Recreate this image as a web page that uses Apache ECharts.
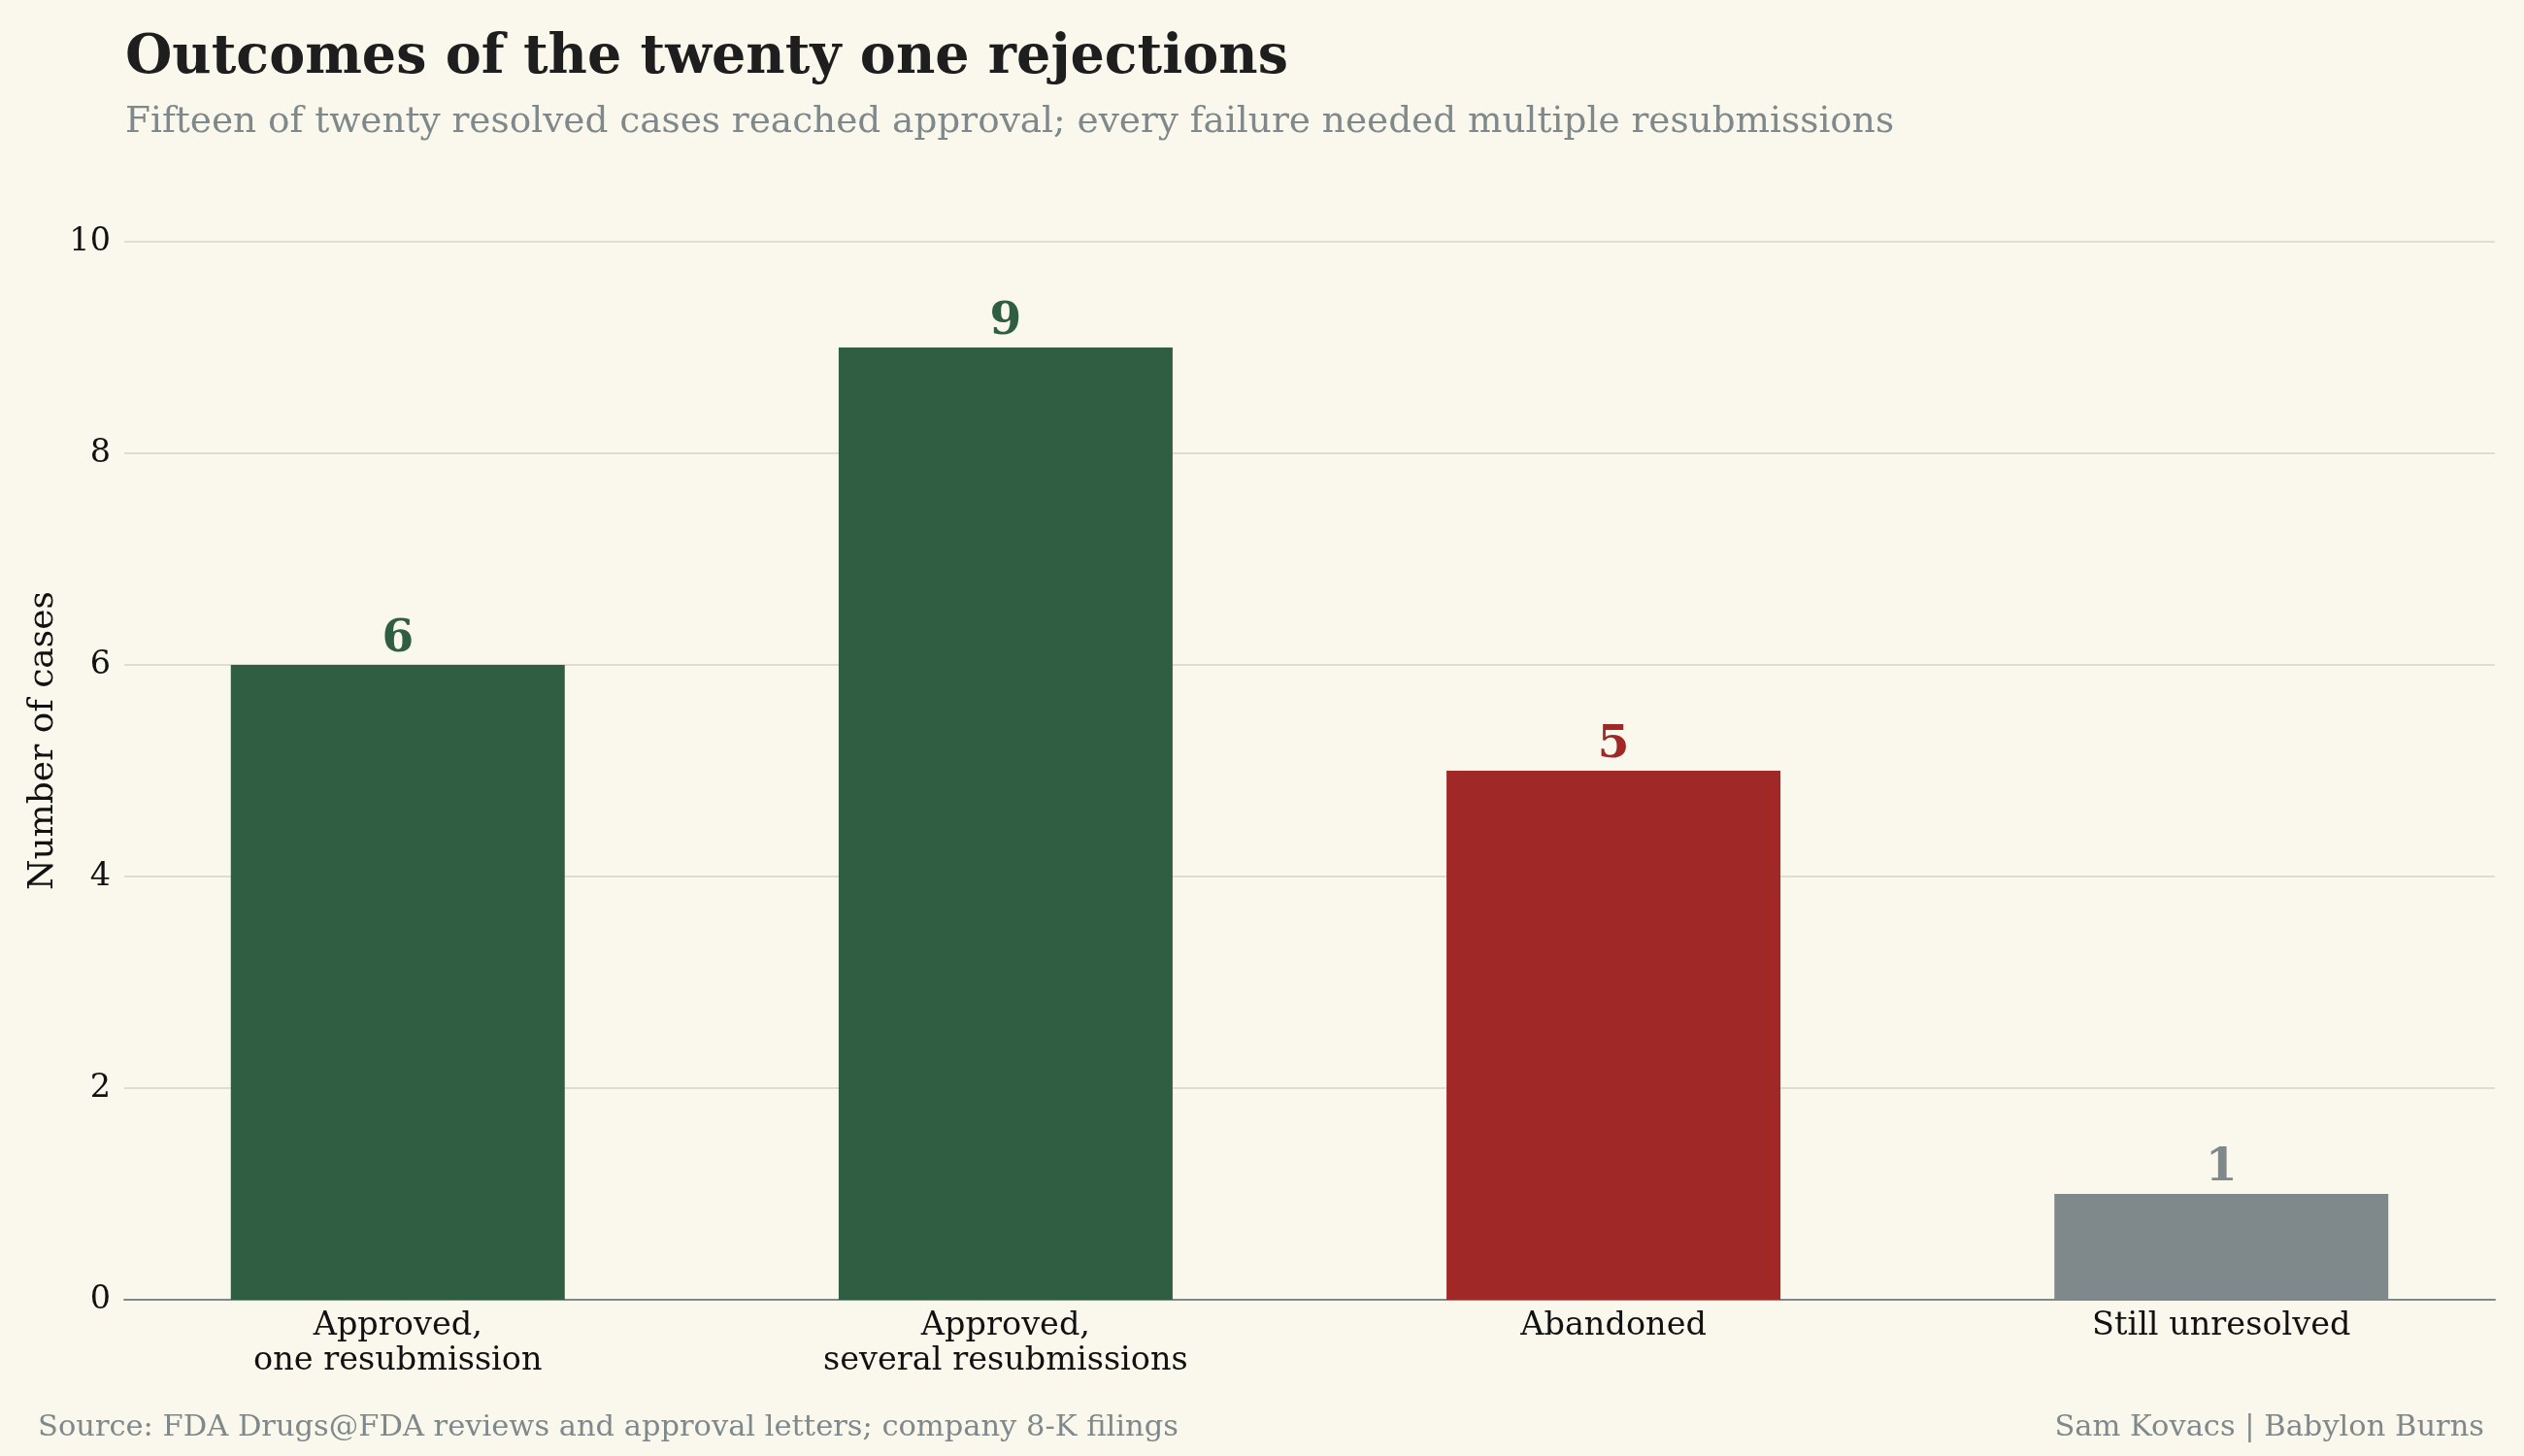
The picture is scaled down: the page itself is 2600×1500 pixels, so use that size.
<!DOCTYPE html>
<html>
<head>
<meta charset="utf-8">
<script src="https://cdn.jsdelivr.net/npm/echarts@6/dist/echarts.min.js"></script>
<style>
html,body{margin:0;padding:0;background:#FAF8EC;}
#chart{width:2600px;height:1500px;}
</style>
</head>
<body>
<div id="chart"></div>
<script>
const categories = ['Approved,\none resubmission', 'Approved,\nseveral resubmissions', 'Abandoned', 'Still unresolved'];
const caseCounts = [6, 9, 5, 1];
const barColors = ['#2F5E42', '#2F5E42', '#A02826', '#7F898B'];
const yTicks = [0, 2, 4, 6, 8, 10];

const FONT = 'DejaVu Serif';
const chart = echarts.init(document.getElementById('chart'), null, {renderer: 'canvas'});

const option = {
  backgroundColor: '#FAF8EC',
  animation: false,
  title: [
    {
      text: 'Outcomes of the twenty one rejections',
      left: 124, top: 28,
      textStyle: {fontFamily: FONT, fontWeight: 'bold', fontSize: 55.5, color: '#1E1E1E'}
    },
    {
      text: 'Fifteen of twenty resolved cases reached approval; every failure needed multiple resubmissions',
      left: 124, top: 103,
      textStyle: {fontFamily: FONT, fontWeight: 'normal', fontSize: 37.4, color: '#7F898B'}
    },
    {
      text: 'Source: FDA Drugs@FDA reviews and approval letters; company 8-K filings',
      left: 34, top: 1451,
      textStyle: {fontFamily: FONT, fontWeight: 'normal', fontSize: 30.5, color: '#7F898B'}
    },
    {
      text: 'Sam Kovacs | Babylon Burns',
      right: 36, top: 1451,
      textStyle: {fontFamily: FONT, fontWeight: 'normal', fontSize: 30.5, color: '#7F898B'}
    }
  ],
  graphic: [{
    type: 'text',
    x: 45, y: 763,
    rotation: Math.PI / 2,
    style: {
      text: 'Number of cases',
      fontFamily: FONT, fontSize: 36, fill: '#111',
      align: 'center', verticalAlign: 'middle'
    }
  }],
  grid: {left: 128, right: 30, top: 249, bottom: 161, containLabel: false},
  xAxis: {
    type: 'value',
    min: -0.45,
    max: 3.45,
    axisLine: {show: true, onZero: false, lineStyle: {color: '#7F898B', width: 2}},
    axisTick: {show: false},
    splitLine: {show: false},
    axisLabel: {
      customValues: categories.map((c, i) => i),
      formatter: v => categories[Math.round(v)] || '',
      fontFamily: FONT, fontSize: 33.5, color: '#111', margin: 9, lineHeight: 36,
      showMinLabel: true, showMaxLabel: true
    }
  },
  yAxis: {
    type: 'value',
    min: 0, max: 10, interval: 2,
    axisLine: {show: false},
    axisTick: {show: false},
    splitLine: {show: true, lineStyle: {color: '#DDDDD2', width: 2}},
    axisLabel: {fontFamily: FONT, fontSize: 33.5, color: '#111', margin: 14,
      customValues: yTicks}
  },
  series: [{
    type: 'bar',
    barWidth: 344,
    data: caseCounts.map((v, i) => ({
      value: [i, v],
      itemStyle: {color: barColors[i]},
      label: {color: barColors[i]}
    })),
    label: {
      show: true, position: 'top', distance: 3,
      fontFamily: FONT, fontWeight: 'bold', fontSize: 47,
      formatter: p => p.value[1]
    },
    z: 3
  }]
};
chart.setOption(option);
</script>
</body>
</html>
